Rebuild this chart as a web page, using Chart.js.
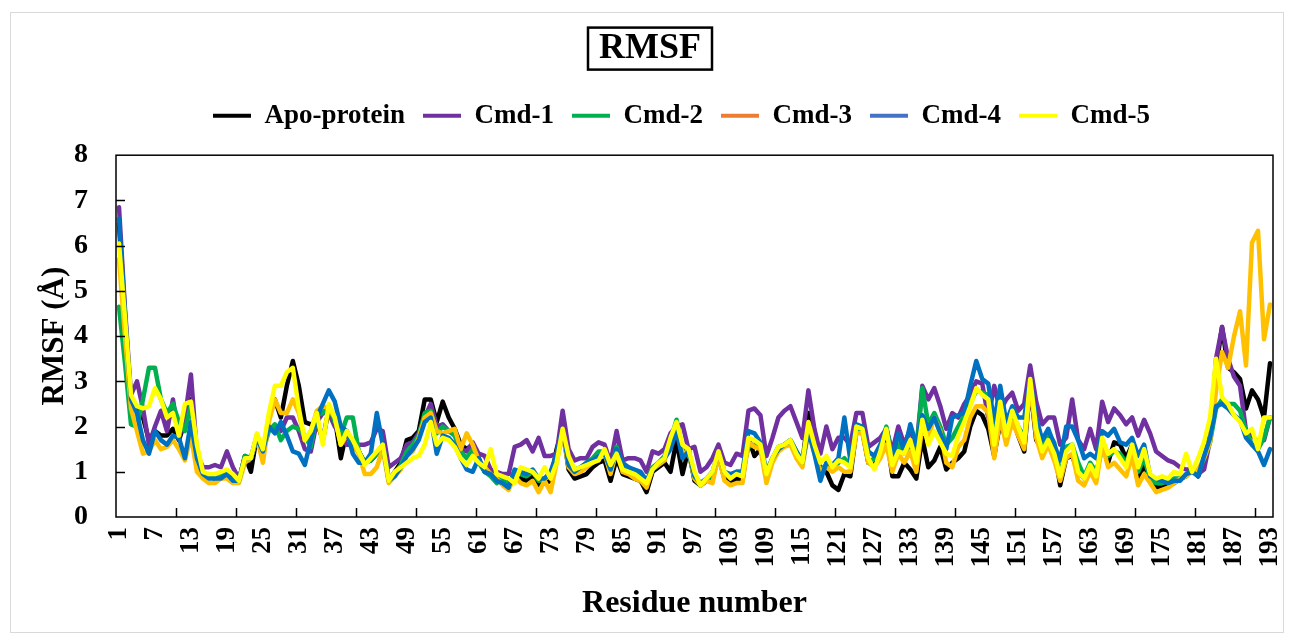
<!DOCTYPE html>
<html>
<head>
<meta charset="utf-8">
<title>RMSF</title>
<script src="https://cdn.jsdelivr.net/npm/chart.js@4.4.1/dist/chart.umd.min.js"></script>
<style>
  html, body { margin: 0; padding: 0; background: #fff; }
  #wrap { position: relative; width: 1292px; height: 637px; }
  #frame { position: absolute; left: 10px; top: 12px; width: 1272px; height: 619px; border: 1px solid #d9d9d9; pointer-events: none; }
  canvas { position: absolute; left: 0; top: 0; }
</style>
</head>
<body>
<div id="wrap">
  <canvas id="rmsfChart" width="1292" height="637"></canvas>
  <div id="frame"></div>
</div>
<script>
// residue numbers 1..193
const residues = Array.from({ length: 193 }, (_, i) => i + 1);
const xTickLabels = [1, 7, 13, 19, 25, 31, 37, 43, 49, 55, 61, 67, 73, 79, 85, 91, 97,
  103, 109, 115, 121, 127, 133, 139, 145, 151, 157, 163, 169, 175, 181, 187, 193];

// RMSF values (Å)
const apoProtein = [6.5, 4.3, 2.5, 2.35, 2.2, 1.7, 1.9, 1.8, 1.8, 1.95,
  1.7, 2.1, 2.6, 1.3, 0.9, 0.9, 0.85, 0.85, 1.0, 0.85,
  0.8, 1.35, 1.0, 1.8, 1.4, 2.2, 2.6, 2.2, 2.9, 3.45,
  2.9, 2.1, 2.05, 2.1, 1.7, 2.4, 2.2, 1.3, 1.9, 1.6,
  1.45, 1.2, 1.25, 1.4, 1.6, 0.8, 1.0, 1.2, 1.7, 1.75,
  1.9, 2.6, 2.6, 2.1, 2.55, 2.2, 1.95, 1.6, 1.5, 1.6,
  1.3, 1.0, 0.95, 0.8, 0.9, 0.7, 1.0, 0.85, 0.8, 0.9,
  0.7, 0.75, 0.8, 1.5, 1.95, 1.05, 0.85, 0.9, 0.95, 1.1,
  1.2, 1.25, 0.8, 1.3, 0.95, 0.9, 0.85, 0.8, 0.55, 1.0,
  1.1, 1.2, 1.0, 1.7, 0.95, 1.5, 0.8, 0.7, 0.8, 0.85,
  1.35, 0.85, 0.75, 0.85, 0.8, 1.75, 1.35, 1.5, 1.0, 1.25,
  1.5, 1.6, 1.65, 1.4, 1.2, 2.3, 1.45, 1.1, 1.0, 0.7,
  0.6, 0.95, 0.9, 1.9, 1.9, 1.2, 1.15, 1.4, 1.85, 0.9,
  0.9, 1.2, 1.05, 0.85, 1.75, 1.1, 1.25, 1.55, 1.05, 1.2,
  1.3, 1.45, 2.0, 2.35, 2.25, 1.95, 1.35, 2.1, 1.7, 2.2,
  1.8, 1.45, 2.9, 1.7, 1.5, 1.8, 1.5, 0.7, 1.3, 1.35,
  1.0, 0.85, 1.15, 0.9, 1.65, 1.2, 1.65, 1.6, 1.3, 1.6,
  0.85, 1.15, 0.85, 0.65, 0.65, 0.7, 0.75, 0.85, 0.9, 1.05,
  0.9, 1.2, 1.9, 3.3, 4.2, 3.3, 3.2, 3.05, 2.4, 2.8,
  2.6, 2.2, 3.4];

const cmd1 = [6.85, 4.6, 2.7, 3.0, 2.4, 1.6, 2.0, 2.35, 1.9, 2.6,
  1.75, 2.2, 3.15, 1.4, 1.1, 1.1, 1.15, 1.1, 1.45, 1.1,
  0.85, 1.3, 1.3, 1.8, 1.5, 2.0, 1.9, 1.9, 2.2, 2.2,
  1.9, 1.5, 1.45, 2.1, 2.3, 2.3, 2.0, 1.8, 1.6, 1.6,
  1.6, 1.6, 1.65, 1.95, 1.9, 1.1, 1.2, 1.3, 1.6, 1.65,
  1.85, 2.2, 2.5, 2.0, 2.05, 1.9, 1.85, 1.5, 1.45, 1.65,
  1.4, 1.35, 1.05, 1.0, 0.95, 0.95, 1.55, 1.6, 1.7, 1.45,
  1.75, 1.35, 1.35, 1.4, 2.35, 1.5, 1.25, 1.3, 1.3, 1.55,
  1.65, 1.6, 1.2, 1.9, 1.25, 1.3, 1.3, 1.25, 1.0, 1.45,
  1.4, 1.5, 1.85, 2.0, 2.05, 1.5, 1.55, 1.0, 1.1, 1.3,
  1.6, 1.2, 1.15, 1.4, 1.35, 2.35, 2.4, 2.25, 1.35, 1.75,
  2.2, 2.35, 2.45, 2.1, 1.75, 2.8, 1.95, 1.4, 2.0, 1.5,
  1.75, 1.75, 1.6, 2.3, 2.3, 1.55, 1.65, 1.75, 1.95, 1.45,
  2.0, 1.6, 1.95, 1.5, 2.9, 2.6, 2.85, 2.45, 1.95, 2.3,
  2.2, 2.5, 2.7, 3.0, 2.95, 2.2, 2.9, 2.35, 2.6, 2.75,
  2.35, 2.5, 3.35, 2.55, 2.05, 2.2, 2.2, 1.6, 1.75, 2.6,
  1.7, 1.5, 1.95, 1.5, 2.55, 2.1, 2.4, 2.25, 2.05, 2.2,
  1.8, 2.15, 1.85, 1.45, 1.35, 1.25, 1.2, 1.1, 1.05, 1.05,
  0.95, 1.05, 1.7, 3.5, 4.2, 3.5, 3.1, 2.9, 1.9, 1.8,
  1.65, 1.7, 2.2];

const cmd2 = [4.65, 3.4, 2.05, 2.0, 2.6, 3.3, 3.3, 2.6, 2.3, 2.5,
  2.1, 1.9, 2.5, 1.3, 0.95, 0.9, 0.9, 0.95, 1.0, 0.9,
  0.8, 1.35, 1.3, 1.8, 1.45, 1.9, 2.05, 1.7, 1.9, 2.0,
  1.95, 1.8, 1.55, 2.25, 2.3, 2.45, 2.1, 1.8, 2.2, 2.2,
  1.45, 1.2, 1.25, 1.4, 1.6, 0.85, 0.95, 1.15, 1.45, 1.6,
  1.8, 2.3, 2.35, 1.85, 2.0, 1.9, 1.8, 1.45, 1.3, 1.5,
  1.2, 1.0, 0.9, 0.75, 0.85, 0.7, 1.0, 0.95, 0.9, 1.0,
  0.8, 0.85, 0.95, 1.3, 1.9, 1.2, 1.05, 1.1, 1.2, 1.3,
  1.45, 1.45, 1.0, 1.55, 1.1, 1.1, 1.0, 0.95, 0.8, 1.1,
  1.2, 1.35, 1.7, 2.15, 1.5, 1.45, 0.85, 0.7, 0.8, 0.9,
  1.4, 0.95, 0.9, 1.0, 1.0, 1.55, 1.6, 1.55, 0.95, 1.3,
  1.55, 1.6, 1.7, 1.45, 1.25, 2.0, 1.45, 1.05, 1.15, 1.05,
  1.2, 1.3, 1.15, 1.9, 1.9, 1.2, 1.3, 1.5, 2.0, 1.3,
  1.6, 1.4, 1.6, 1.4, 2.85, 2.05, 2.3, 2.0, 1.6, 1.75,
  2.0, 2.25, 2.5, 2.8, 2.75, 2.7, 1.8, 2.6, 1.85, 2.3,
  2.0, 1.75, 3.0, 2.0, 1.6, 1.85, 1.65, 0.9, 1.55, 1.6,
  1.2, 0.9, 1.2, 1.0, 1.5, 1.35, 1.45, 1.4, 1.2, 1.55,
  1.0, 1.3, 0.85, 0.75, 0.75, 0.8, 0.85, 0.85, 0.9, 1.05,
  0.95, 1.3, 1.65, 2.4, 2.6, 2.5, 2.5, 2.35, 1.9, 1.6,
  1.5, 1.75, 2.2];

const cmd3 = [5.7, 4.0, 2.4, 1.9, 1.4, 1.45, 1.7, 1.5, 1.55, 1.7,
  1.5, 1.25, 1.8, 1.0, 0.85, 0.75, 0.75, 0.85, 0.85, 0.75,
  0.75, 1.2, 1.3, 1.75, 1.2, 2.1, 2.6, 2.3, 2.3, 2.6,
  2.3, 1.7, 1.9, 2.35, 2.45, 2.4, 2.2, 1.6, 1.8, 1.6,
  1.4, 0.95, 0.95, 1.1, 1.5, 0.75, 0.9, 1.05, 1.35, 1.45,
  1.75, 2.2, 2.3, 1.9, 1.85, 1.9, 1.95, 1.5, 1.85, 1.6,
  1.25, 1.1, 0.95, 0.85, 0.7, 0.6, 0.9, 0.75, 0.7, 0.8,
  0.55, 0.8, 0.55, 1.2, 1.85, 1.1, 0.95, 1.0, 1.1, 1.2,
  1.35, 1.4, 0.95, 1.45, 1.0, 0.95, 0.85, 0.8, 0.65, 1.05,
  1.15, 1.25, 1.65, 2.05, 1.4, 1.45, 0.85, 0.7, 0.8, 0.75,
  1.35, 0.8, 0.7, 0.75, 0.75, 1.65, 1.55, 1.5, 0.75, 1.2,
  1.45, 1.55, 1.6, 1.3, 1.1, 1.9, 1.4, 1.0, 1.1, 1.0,
  1.1, 1.0, 1.0, 1.85, 1.85, 1.2, 1.1, 1.3, 1.6, 1.0,
  1.4, 1.2, 1.45, 1.0, 2.0, 1.75, 2.2, 1.9, 1.2, 1.1,
  1.55, 1.7, 2.2, 2.45, 2.45, 2.3, 1.3, 2.2, 1.6, 2.1,
  1.8, 1.5, 2.95, 1.75, 1.3, 1.6, 1.25, 0.8, 1.3, 1.4,
  0.8, 0.7, 1.0, 0.75, 1.6, 1.1, 1.2, 1.05, 0.9, 1.35,
  0.7, 0.95, 0.75, 0.55, 0.6, 0.65, 0.75, 0.85, 0.9, 1.0,
  1.05, 1.3, 1.65, 2.8, 3.65, 3.3, 4.0, 4.55, 3.35, 6.07,
  6.33, 3.93, 4.7];

const cmd4 = [6.6, 4.5, 2.6, 2.3, 1.7, 1.4, 1.9, 1.7, 1.6, 1.8,
  1.75, 1.3, 2.1, 1.3, 0.95, 0.85, 0.85, 0.85, 0.95, 0.8,
  0.8, 1.3, 1.3, 1.75, 1.45, 2.0, 1.85, 2.1, 1.8, 1.45,
  1.4, 1.15, 1.7, 2.2, 2.5, 2.8, 2.55, 2.0, 1.9, 1.4,
  1.2, 1.2, 1.4, 2.3, 1.6, 0.8, 0.9, 1.1, 1.35, 1.5,
  1.7, 2.1, 2.2, 1.4, 1.8, 1.75, 1.6, 1.3, 1.05, 1.0,
  1.3, 1.0, 0.95, 0.8, 0.75, 0.65, 1.05, 1.0, 0.95, 1.05,
  0.85, 0.85, 1.0, 1.4, 1.95, 1.15, 1.0, 1.1, 1.2, 1.25,
  1.35, 1.4, 1.05, 1.5, 1.2, 1.1, 1.05, 1.0, 0.8, 1.05,
  1.2, 1.3, 1.5, 1.9, 1.3, 1.45, 0.9, 0.75, 0.85, 1.0,
  1.45, 1.0, 0.95, 1.0, 1.0, 1.9, 1.85, 1.65, 1.0, 1.3,
  1.5, 1.6, 1.7, 1.45, 1.2, 1.9, 1.4, 0.8, 1.2, 1.15,
  1.3, 2.2, 1.25, 2.05, 2.0, 1.45, 1.35, 1.6, 1.95, 1.3,
  1.85, 1.45, 2.05, 1.6, 2.25, 1.95, 2.2, 1.85, 1.5, 2.2,
  2.25, 2.3, 2.9, 3.45, 3.05, 2.95, 2.1, 2.9, 2.1, 2.45,
  2.2, 2.2, 3.05, 2.2, 1.7, 1.95, 1.6, 1.25, 2.0, 2.0,
  1.7, 1.3, 1.4, 1.3, 1.9, 1.8, 1.95, 1.65, 1.6, 1.75,
  1.35, 1.6, 0.9, 0.85, 0.8, 0.75, 0.8, 0.8, 0.95, 1.0,
  0.9, 1.35, 1.75, 2.45, 2.5, 2.4, 2.25, 2.15, 1.75, 1.6,
  1.45, 1.15, 1.5];

const cmd5 = [6.05, 4.4, 2.7, 2.45, 2.4, 2.45, 2.85, 2.6, 2.2, 2.3,
  1.8, 2.5, 2.55, 1.6, 1.0, 0.95, 0.95, 1.0, 1.05, 0.95,
  0.8, 1.3, 1.3, 1.85, 1.5, 2.3, 2.9, 2.9, 3.2, 3.3,
  2.4, 1.7, 1.9, 2.3, 1.6, 2.5, 2.2, 1.6, 1.9, 1.7,
  1.45, 1.15, 1.3, 1.45, 1.6, 0.8, 1.0, 1.1, 1.2, 1.3,
  1.35, 1.6, 2.1, 1.6, 1.75, 1.7, 1.55, 1.3, 1.15, 1.35,
  1.2, 1.1, 1.5, 0.95, 0.9, 0.85, 0.75, 1.1, 1.05, 1.0,
  0.85, 1.1, 0.85, 1.2, 1.95, 1.35, 1.05, 1.1, 1.15, 1.2,
  1.25, 1.5, 1.15, 1.4, 1.05, 1.0, 0.95, 0.85, 0.75, 1.05,
  1.2, 1.3, 1.75, 2.1, 1.6, 1.5, 1.0, 0.7, 0.85, 1.0,
  1.45, 1.0, 0.85, 0.95, 0.9, 1.75, 1.7, 1.6, 0.95, 1.3,
  1.55, 1.6, 1.7, 1.4, 1.2, 2.1, 1.6, 1.2, 1.35, 1.1,
  1.25, 1.2, 1.1, 2.0, 1.95, 1.3, 1.05, 1.45, 1.95, 1.15,
  1.45, 1.4, 1.7, 1.2, 2.15, 1.6, 1.9, 1.65, 1.4, 1.35,
  1.8, 2.1, 2.45, 2.85, 2.7, 2.6, 1.6, 2.55, 1.8, 2.35,
  2.0, 1.65, 3.05, 1.95, 1.45, 1.7, 1.4, 0.9, 1.45, 1.6,
  1.0, 0.85, 1.15, 0.9, 1.75, 1.4, 1.5, 1.3, 1.1, 1.6,
  1.1, 1.5, 0.95, 0.85, 0.9, 0.85, 1.0, 0.95, 1.4, 1.0,
  1.3, 1.65, 2.2, 3.5, 2.65, 2.5, 2.25, 2.1, 1.85, 1.95,
  1.5, 2.2, 2.2];

const serif = '"Liberation Serif", "Times New Roman", serif';
const lineColors = ['#000000', '#7030A0', '#00B050', '#FFC000', '#0070C0', '#FFFF00'];
const legendColors = ['#000000', '#7030A0', '#00B050', '#ED7D31', '#4472C4', '#FFFF00'];

// frame, inner tick marks, boxed title
const decorations = {
  id: 'decorations',
  afterLayout(chart) {
    chart.legend.left += 45;
    chart.legend.right += 45;
    chart.titleBlock.left += 13.5;
    chart.titleBlock.right += 13.5;
  },
  afterDatasetsDraw(chart) {
    const { ctx, chartArea: a, scales: { x, y } } = chart;
    ctx.save();
    ctx.strokeStyle = '#000';
    ctx.lineWidth = 1.5;
    ctx.strokeRect(a.left, a.top, a.right - a.left, a.bottom - a.top);
    ctx.beginPath();
    for (let v = 1; v < 8; v++) {
      const py = Math.round(y.getPixelForValue(v)) + 0.5;
      ctx.moveTo(a.left, py);
      ctx.lineTo(a.left + 9, py);
    }
    for (let v = 10.5; v < 193; v += 10) {
      const px = Math.round(x.getPixelForValue(v)) + 0.5;
      ctx.moveTo(px, a.bottom);
      ctx.lineTo(px, a.bottom - 9);
    }
    ctx.stroke();
    ctx.restore();
  },
  afterDraw(chart) {
    const t = chart.titleBlock;
    const o = chart.options.plugins.title;
    const cx = (t.left + t.right) / 2;
    const cy = t.top + o.padding.top + o.font.size * 1.2 / 2;
    const ctx = chart.ctx;
    ctx.save();
    ctx.strokeStyle = '#000';
    ctx.lineWidth = 2.5;
    ctx.strokeRect(cx - 62, cy - 21, 124, 42);
    ctx.restore();
  }
};

const names = ['Apo-protein', 'Cmd-1', 'Cmd-2', 'Cmd-3', 'Cmd-4', 'Cmd-5'];
const series = [apoProtein, cmd1, cmd2, cmd3, cmd4, cmd5];

const ctx = document.getElementById('rmsfChart').getContext('2d');
new Chart(ctx, {
  type: 'line',
  data: {
    labels: residues,
    datasets: series.map((vals, i) => ({
      label: names[i],
      data: vals,
      borderColor: lineColors[i],
      backgroundColor: lineColors[i],
      borderWidth: 4.5,
      pointRadius: 0,
      tension: 0,
      borderJoinStyle: 'round',
      borderCapStyle: 'round',
      fill: false,
      order: series.length - 1 - i,
    })),
  },
  options: {
    responsive: false,
    animation: false,
    devicePixelRatio: 1,
    layout: { padding: { left: 0, right: 19, top: 0, bottom: 0 } },
    plugins: {
      title: {
        display: true,
        text: 'RMSF',
        color: '#000',
        font: { family: serif, size: 36, weight: 'bold', lineHeight: 1.2 },
        padding: { top: 27, bottom: 14 },
      },
      subtitle: {
        display: true,
        text: '',
        weight: 500,
        font: { size: 1, lineHeight: 1 },
        padding: { top: 0, bottom: 15 },
      },
      legend: {
        display: true,
        position: 'top',
        reverse: true,
        labels: {
          color: '#000',
          font: { family: serif, size: 27, weight: 'bold' },
          boxWidth: 38,
          boxHeight: 4,
          padding: 18,
          generateLabels(chart) {
            return Chart.defaults.plugins.legend.labels.generateLabels(chart).map((item) => ({
              ...item,
              fillStyle: legendColors[item.datasetIndex],
              strokeStyle: legendColors[item.datasetIndex],
              lineWidth: 0,
            }));
          },
        },
      },
      tooltip: { enabled: false },
    },
    scales: {
      x: {
        type: 'linear',
        min: 0.5,
        max: 193.5,
        afterBuildTicks(axis) {
          axis.ticks = xTickLabels.map((v) => ({ value: v }));
        },
        afterFit(scale) {
          scale.height = 120;
          scale.paddingLeft = 0;
          scale.paddingRight = 0;
        },
        grid: { display: false, drawTicks: false },
        border: { display: false },
        ticks: {
          autoSkip: false,
          minRotation: 90,
          maxRotation: 90,
          padding: 10,
          color: '#000',
          font: { family: serif, size: 27, weight: 'bold' },
        },
        title: {
          display: true,
          text: 'Residue number',
          color: '#000',
          font: { family: serif, size: 32, weight: 'bold', lineHeight: 1.2 },
          padding: { top: 0, bottom: 14 },
        },
      },
      y: {
        min: 0,
        max: 8,
        afterFit(scale) { scale.width = 116; },
        grid: { display: false, drawTicks: false },
        border: { display: false },
        ticks: {
          stepSize: 1,
          padding: 28,
          color: '#000',
          font: { family: serif, size: 28, weight: 'bold' },
        },
        title: {
          display: true,
          text: 'RMSF (Å)',
          color: '#000',
          font: { family: serif, size: 31, weight: 'bold', lineHeight: 1.2 },
          padding: { top: 36, bottom: 0 },
        },
      },
    },
  },
  plugins: [decorations],
});
</script>
</body>
</html>
